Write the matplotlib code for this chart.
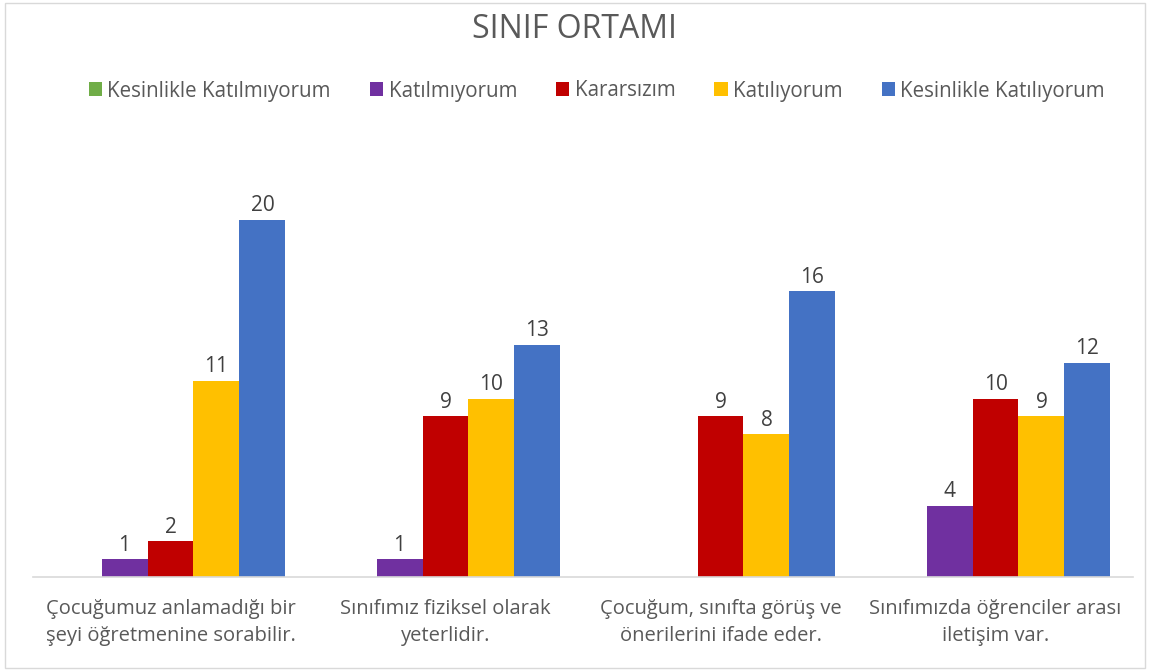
import matplotlib.pyplot as plt
import numpy as np
from matplotlib.patches import Rectangle

plt.rcParams['font.family'] = ['Open Sans', 'DejaVu Sans']

categories = ['Çocuğumuz anlamadığı bir\nşeyi öğretmenine sorabilir.',
              'Sınıfımız fiziksel olarak\nyeterlidir.',
              'Çocuğum, sınıfta görüş ve\nönerilerini ifade eder.',
              'Sınıfımızda öğrenciler arası\niletişim var.']
series_names = ['Kesinlikle Katılmıyorum', 'Katılmıyorum', 'Kararsızım',
                'Katılıyorum', 'Kesinlikle Katılıyorum']
kesinlikle_katilmiyorum = [0, 0, 0, 0]
katilmiyorum = [1, 1, 0, 4]
kararsizim = [2, 9, 9, 10]
katiliyorum = [11, 10, 8, 9]
kesinlikle_katiliyorum = [20, 13, 16, 12]
series = [kesinlikle_katilmiyorum, katilmiyorum, kararsizim,
          katiliyorum, kesinlikle_katiliyorum]
colors = ['#70AD47', '#7030A0', '#C00000', '#FFC000', '#4472C4']
text_color = '#595959'

fig = plt.figure(figsize=(11.5, 6.71), dpi=100)
fig.patches.append(Rectangle((5 / 1150, 3 / 671), 1140 / 1150, 665 / 671,
                             transform=fig.transFigure, fill=False,
                             edgecolor='#D9D9D9', linewidth=1))
# axes: x 33..1133 px, baseline at y=577 px, top at 577-22*17.85
ax = fig.add_axes([33 / 1150, (671 - 577) / 671, 1100 / 1150, 392.7 / 671])

x = np.arange(len(categories))
width = 0.836 / 5
for i, (name, vals, c) in enumerate(zip(series_names, series, colors)):
    pos = x + (i - 2) * width
    bars = ax.bar(pos, vals, width, color=c, label=name, zorder=2)
    for b, v in zip(bars, vals):
        if v > 0:
            ax.text(b.get_x() + b.get_width() / 2, v + 0.2, str(v),
                    ha='center', va='bottom', fontsize=15, color='#404040')

ax.set_xlim(-0.5, 3.5)
ax.set_ylim(0, 22)
ax.set_yticks([])
ax.set_xticks(x)
ax.set_xticklabels(categories, fontsize=14.5, color=text_color, linespacing=1.45)
ax.tick_params(axis='x', length=0, pad=16)
for s in ['top', 'right', 'left']:
    ax.spines[s].set_visible(False)
ax.spines['bottom'].set_color('#D9D9D9')
ax.spines['bottom'].set_linewidth(1.2)

fig.text(0.5, 1 - 29 / 671, 'SINIF ORTAMI', ha='center', va='center',
         fontsize=23, color=text_color)
fig.legend(loc='center', bbox_to_anchor=(0.519, 1 - 91 / 671), ncol=5,
           frameon=False, fontsize=14.8, labelcolor=text_color,
           handlelength=0.65, handleheight=0.65, handletextpad=0.25,
           columnspacing=1.9)

fig.savefig('out.png', dpi=100)
